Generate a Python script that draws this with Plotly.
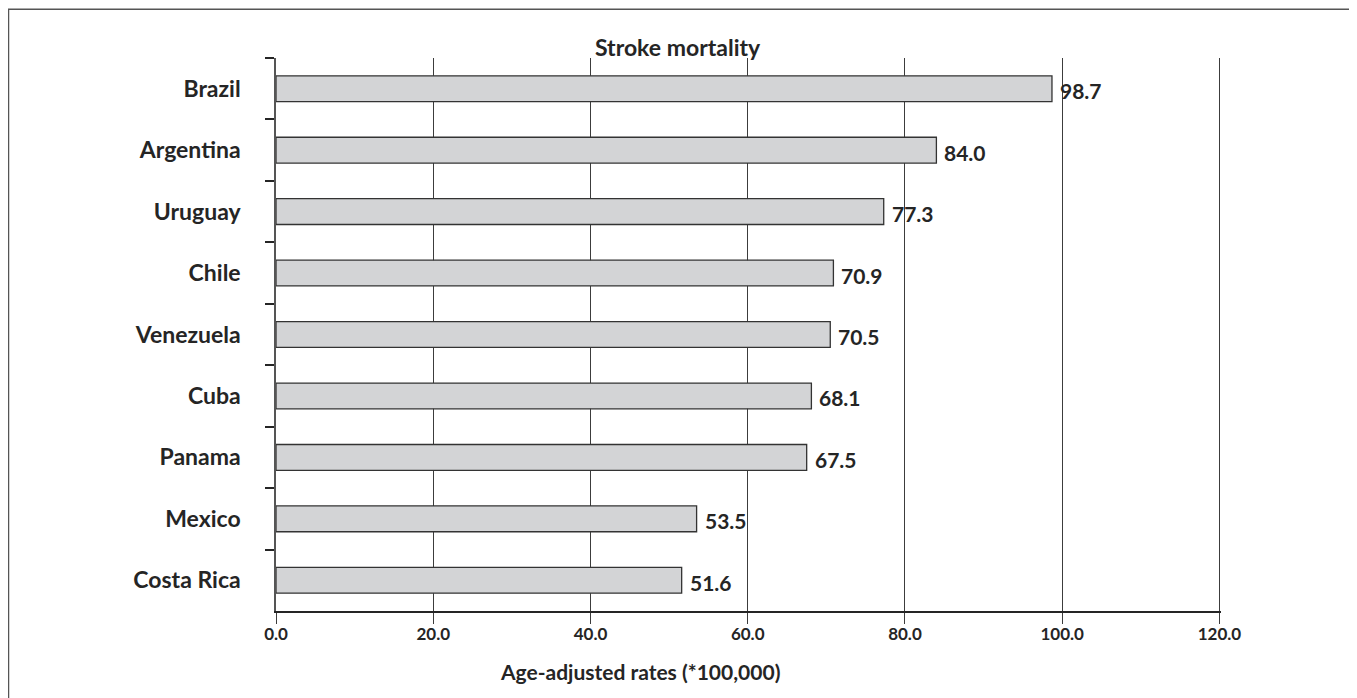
import plotly.graph_objects as go

countries = ["Brazil", "Argentina", "Uruguay", "Chile", "Venezuela", "Cuba", "Panama", "Mexico", "Costa Rica"]
rates = [98.7, 84.0, 77.3, 70.9, 70.5, 68.1, 67.5, 53.5, 51.6]
x_ticks = [0, 20, 40, 60, 80, 100, 120]
title_text = "Stroke mortality"
x_title = "Age-adjusted rates (*100,000)"

FONT = "Lato"
DARK = "#252525"

# page body has an 8px margin; figure coords = reference coords - 8
W, H = 1347, 698
L, R, T, B = 268, 134, 50, 95
pw, ph = W - L - R, H - T - B

def px_x(p):
    return (p - L) / pw

def px_y(p):
    return (H - B - p) / ph

fig = go.Figure()
fig.add_trace(go.Bar(
    y=countries, x=rates, orientation="h",
    marker=dict(color="#d3d4d6", line=dict(color="#333333", width=1.3)),
    width=0.42,
    hoverinfo="x+y",
))

for c, v in zip(countries, rates):
    fig.add_annotation(
        x=v, y=c, xref="x", yref="y", text=f"{v:.1f}",
        showarrow=False, xanchor="left", xshift=6, yshift=-2,
        font=dict(family=FONT, size=21, color=DARK, weight="bold"),
    )

fig.update_layout(
    width=W, height=H,
    margin=dict(l=L, r=R, t=T, b=B),
    paper_bgcolor="white", plot_bgcolor="white",
    showlegend=False,
    font=dict(family=FONT, size=18, color=DARK, weight="bold"),
    xaxis=dict(
        range=[0, 120.2], tickvals=x_ticks, tickformat=".1f",
        showgrid=True, gridcolor="#3c3c3c", gridwidth=1.3,
        showline=True, linecolor="#252525", linewidth=2,
        ticks="outside", ticklen=11, tickwidth=1.3, tickcolor="#3c3c3c",
        zeroline=False,
        ticklabelstandoff=-4,
        tickfont=dict(family=FONT, size=17, color=DARK, weight="bold"),
    ),
    yaxis=dict(
        categoryorder="array", categoryarray=countries, autorange="reversed",
        showline=True, linecolor="#555555", linewidth=1.5,
        ticks="outside", ticklen=9, tickwidth=2, tickcolor="#252525",
        tickson="boundaries", showgrid=False,
        ticklabelstandoff=29,
        tickfont=dict(family=FONT, size=23, color=DARK, weight="bold"),
    ),
)

fig.add_annotation(
    text=title_text, x=px_x(669.5), y=px_y(39), xref="paper", yref="paper",
    xanchor="center", yanchor="middle",
    showarrow=False, font=dict(family=FONT, size=23, color=DARK, weight="bold"),
)
fig.add_annotation(
    text=x_title, x=px_x(632), y=px_y(663), xref="paper", yref="paper",
    xanchor="center", yanchor="middle",
    showarrow=False, font=dict(family=FONT, size=21, color=DARK, weight="bold"),
)
fig.add_shape(
    type="rect", xref="paper", yref="paper",
    x0=px_x(0.5), x1=px_x(1346), y0=px_y(720), y1=px_y(1.3),
    line=dict(color="#555555", width=1.5), fillcolor="rgba(0,0,0,0)", layer="below",
)

fig.write_html("out.html")
